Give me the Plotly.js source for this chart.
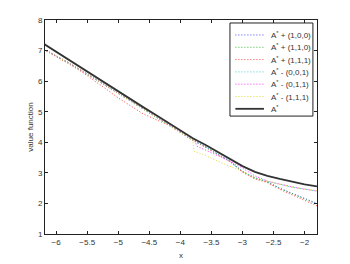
<!DOCTYPE html>
<html>
<head>
<meta charset="utf-8">
<script src="https://cdn.plot.ly/plotly-3.0.1.min.js"></script>
<style>
  html, body { margin: 0; padding: 0; background: #fff; }
  #chart { width: 350px; height: 264px; }
</style>
</head>
<body>
<div id="chart"></div>
<script>
// shared x grid
const xs = [-6.2, -6.0, -5.8, -5.6, -5.4, -5.2, -5.0, -4.8, -4.6, -4.4, -4.2, -4.0, -3.8, -3.6, -3.4, -3.2, -3.0, -2.8, -2.6, -2.4, -2.2, -2.0, -1.8];

// A*
const valStar = [7.22, 6.96, 6.70, 6.44, 6.16, 5.90, 5.65, 5.40, 5.15, 4.90, 4.64, 4.38, 4.13, 3.92, 3.68, 3.44, 3.22, 3.03, 2.90, 2.80, 2.70, 2.62, 2.56];
// A* + (1,0,0)
const valPlus100 = [7.05, 6.83, 6.60, 6.36, 6.10, 5.85, 5.60, 5.35, 5.10, 4.85, 4.60, 4.34, 4.08, 3.86, 3.62, 3.38, 3.05, 2.84, 2.71, 2.50, 2.33, 2.16, 2.00];
// A* + (1,1,0)
const valPlus110 = [7.04, 6.82, 6.59, 6.35, 6.09, 5.84, 5.59, 5.34, 5.09, 4.84, 4.59, 4.33, 4.07, 3.85, 3.61, 3.37, 3.04, 2.83, 2.70, 2.49, 2.32, 2.14, 1.97];
// A* + (1,1,1)
const valPlus111 = [7.03, 6.81, 6.57, 6.32, 6.04, 5.75, 5.45, 5.18, 4.93, 4.75, 4.57, 4.32, 4.06, 3.84, 3.60, 3.36, 3.02, 2.80, 2.68, 2.46, 2.28, 2.10, 1.92];
// A* - (0,0,1)
const valMinus001 = [7.05, 6.83, 6.60, 6.36, 6.10, 5.85, 5.60, 5.35, 5.10, 4.85, 4.60, 4.34, 4.08, 3.86, 3.62, 3.38, 3.05, 2.84, 2.72, 2.62, 2.53, 2.46, 2.40];

// A* - (0,1,1)
const xsMinus011 = [-6.2, -6.0, -5.8, -5.6, -5.4, -5.2, -5.0, -4.8, -4.6, -4.4, -4.2, -4.0, -3.76, -3.74, -3.6, -3.4, -3.2, -3.0, -2.8, -2.6, -2.4, -2.2, -2.0, -1.8];
const valMinus011 = [7.05, 6.83, 6.60, 6.36, 6.10, 5.85, 5.60, 5.35, 5.10, 4.85, 4.60, 4.34, 4.06, 3.88, 3.75, 3.56, 3.38, 3.16, 2.90, 2.73, 2.63, 2.54, 2.47, 2.41];

// A* - (1,1,1)
const xsMinus111 = [-6.2, -6.0, -5.8, -5.6, -5.4, -5.2, -5.0, -4.8, -4.6, -4.4, -4.2, -4.0, -3.8, -3.78, -3.6, -3.4, -3.2, -3.0, -2.8, -2.6, -2.4, -2.2, -2.0, -1.8];
const valMinus111 = [7.05, 6.83, 6.60, 6.36, 6.10, 5.85, 5.60, 5.35, 5.10, 4.85, 4.60, 4.34, 4.08, 3.70, 3.58, 3.38, 3.22, 3.05, 2.82, 2.72, 2.63, 2.54, 2.47, 2.42];

const seriesNames = ['A<sup>*</sup> + (1,0,0)', 'A<sup>*</sup> + (1,1,0)', 'A<sup>*</sup> + (1,1,1)',
  'A<sup>*</sup> - (0,0,1)', 'A<sup>*</sup> - (0,1,1)', 'A<sup>*</sup> - (1,1,1)', 'A<sup>*</sup>'];
const seriesColors = ['#4444ff', '#33bb33', '#ff4444', '#44cccc', '#ff33ff', '#dddd33', '#333333'];

const xTicks = [-6, -5.5, -5, -4.5, -4, -3.5, -3, -2.5, -2];
const yTicks = [1, 2, 3, 4, 5, 6, 7, 8];

const xData = [xs, xs, xs, xs, xsMinus011, xsMinus111, xs];
const yData = [valPlus100, valPlus110, valPlus111, valMinus001, valMinus011, valMinus111, valStar];

const traces = seriesNames.map((name, i) => {
  const solid = i === seriesNames.length - 1;
  return {
    x: xData[i], y: yData[i], name: name, type: 'scatter', mode: 'lines',
    showlegend: false,
    line: solid ? { color: seriesColors[i], width: 1.8 }
                : { color: seriesColors[i], width: 1, dash: '1px,2px' }
  };
});

// hand-built legend (plotly legend rows are too tall for this size)
const legX0 = 0.68, legX1 = 0.985, legY0 = 0.551, legY1 = 0.986;
const rowTop = 0.93, rowStep = 0.0575;
const shapes = [{
  type: 'rect', xref: 'paper', yref: 'paper',
  x0: legX0, x1: legX1, y0: legY0, y1: legY1,
  line: { color: '#222', width: 1 }, fillcolor: '#fff', layer: 'above'
}];
const annotations = [];
seriesNames.forEach((name, i) => {
  const yy = rowTop - i * rowStep;
  const solid = i === seriesNames.length - 1;
  shapes.push({
    type: 'line', xref: 'paper', yref: 'paper',
    x0: 0.70, x1: 0.805, y0: yy, y1: yy, layer: 'above',
    line: solid ? { color: seriesColors[i], width: 1.8 }
                : { color: seriesColors[i], width: 1, dash: '1px,2px' }
  });
  annotations.push({
    xref: 'paper', yref: 'paper', x: 0.822, y: yy,
    xanchor: 'left', yanchor: 'middle', showarrow: false,
    text: name, font: { size: 8, color: '#333' }
  });
});

const axisCommon = {
  showgrid: false, zeroline: false,
  showline: true, linecolor: '#222', linewidth: 1,
  mirror: 'ticks', ticks: 'inside', ticklen: 3, tickcolor: '#222',
  tickfont: { size: 8, color: '#333' }
};

const layout = {
  width: 350, height: 264,
  margin: { l: 45, r: 33, t: 20, b: 30 },
  paper_bgcolor: '#fff', plot_bgcolor: '#fff',
  font: { family: "'Liberation Sans', Arial, sans-serif", size: 8, color: '#333' },
  showlegend: false,
  shapes: shapes,
  annotations: annotations,
  xaxis: Object.assign({}, axisCommon, {
    range: [-6.18, -1.8],
    tickvals: xTicks,
    title: { text: 'x', font: { size: 8, color: '#333' }, standoff: 6 }
  }),
  yaxis: Object.assign({}, axisCommon, {
    range: [1, 8],
    tickvals: yTicks,
    title: { text: 'value function', font: { size: 8, color: '#333' }, standoff: 3 }
  })
};

Plotly.newPlot('chart', traces, layout, { displayModeBar: false, staticPlot: true });
</script>
</body>
</html>
